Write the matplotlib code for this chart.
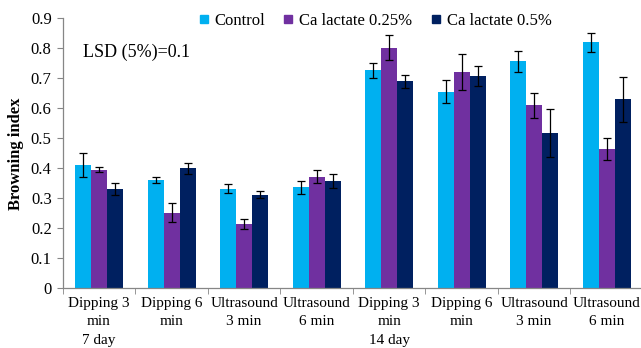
import numpy as np
import matplotlib
matplotlib.use("Agg")
from matplotlib import pyplot as plt
from matplotlib.lines import Line2D

plt.rcParams["font.family"] = ["Liberation Serif", "DejaVu Serif"]

# treatments (x categories)
categories = [
    "Dipping 3\nmin\n7 day", "Dipping 6\nmin", "Ultrasound\n3 min", "Ultrasound\n6 min",
    "Dipping 3\nmin\n14 day", "Dipping 6\nmin", "Ultrasound\n3 min", "Ultrasound\n6 min",
]
series_names = ["Control", "Ca lactate 0.25%", "Ca lactate 0.5%"]

control = [0.41, 0.362, 0.333, 0.337, 0.727, 0.656, 0.757, 0.82]
ca_025 = [0.396, 0.253, 0.216, 0.373, 0.802, 0.721, 0.61, 0.464]
ca_05 = [0.332, 0.401, 0.313, 0.358, 0.691, 0.709, 0.517, 0.63]

control_err = [0.04, 0.011, 0.014, 0.022, 0.025, 0.039, 0.034, 0.031]
ca_025_err = [0.008, 0.032, 0.017, 0.022, 0.042, 0.059, 0.043, 0.037]
ca_05_err = [0.021, 0.018, 0.013, 0.024, 0.022, 0.033, 0.08, 0.075]

colors = ["#00B0F0", "#7030A0", "#002060"]

fig = plt.figure(figsize=(6.41, 3.48), dpi=100)
ax = fig.add_axes([0.098, 0.171, 0.905, 0.776])

x = np.arange(len(categories))
width = 0.22
values = [control, ca_025, ca_05]
errors = [control_err, ca_025_err, ca_05_err]
for i, (vals, errs) in enumerate(zip(values, errors)):
    ax.bar(x + (i - 1) * width, vals, width, color=colors[i], label=series_names[i],
           yerr=errs, capsize=2.8, error_kw=dict(ecolor="black", elinewidth=0.9, capthick=0.9),
           zorder=2)

ax.set_xlim(-0.5, len(categories) - 0.5)
ax.set_ylim(0, 0.9)
ax.set_yticks(np.arange(0, 0.91, 0.1))
ax.set_yticklabels(["0"] + [f"{v:.1f}" for v in np.arange(0.1, 0.91, 0.1)], fontsize=12)

# category labels centered, ticks between categories
ax.set_xticks(x)
ax.set_xticklabels(categories, fontsize=11, linespacing=1.55)
ax.tick_params(axis="x", length=0, pad=6)
ax.set_xticks(np.arange(-0.5, len(categories) + 0.5, 1), minor=True)
ax.tick_params(axis="x", which="minor", length=4, color="#868686", direction="out")
ax.tick_params(axis="y", length=4, color="#868686", direction="out", pad=4)

for side in ["top", "right"]:
    ax.spines[side].set_visible(False)
for side in ["left", "bottom"]:
    ax.spines[side].set_color("#868686")
    ax.spines[side].set_linewidth(0.9)

ax.set_ylabel("Browning index", fontsize=12, fontweight="bold", labelpad=5)

ax.text(0.034, 0.875, "LSD (5%)=0.1", transform=ax.transAxes, fontsize=13, va="center")

handles = [Line2D([], [], marker="s", linestyle="none", markersize=5.5,
                  markerfacecolor=c, markeredgecolor=c) for c in colors]
fig.legend(handles, series_names, loc="upper center", bbox_to_anchor=(0.585, 0.995),
           ncol=3, frameon=False, fontsize=12, handlelength=0.6, handletextpad=0.35,
           columnspacing=1.1, borderaxespad=0.25)

fig.savefig("out.png", dpi=100)
